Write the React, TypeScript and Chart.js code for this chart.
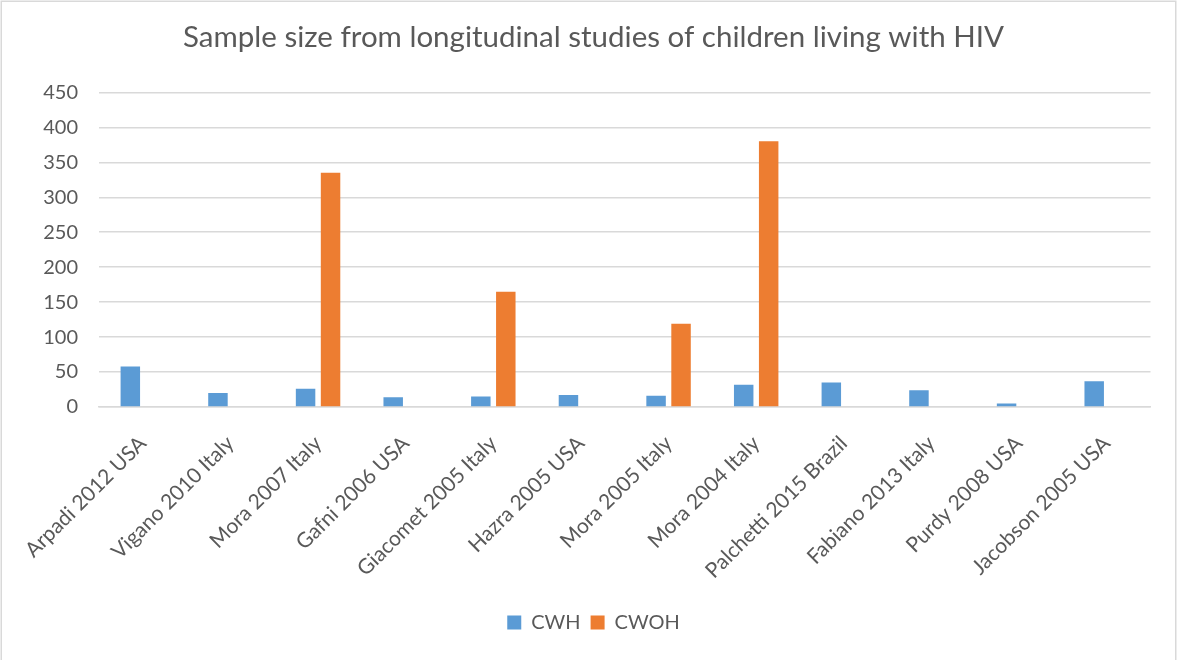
import React, { useEffect, useRef } from "react";
import { Chart, registerables } from "chart.js";

Chart.register(...registerables);

const TITLE = "Sample size from longitudinal studies of children living with HIV";

const studies = [
  "Arpadi 2012 USA",
  "Vigano 2010 Italy",
  "Mora 2007 Italy",
  "Gafni 2006 USA",
  "Giacomet 2005 Italy",
  "Hazra 2005 USA",
  "Mora 2005 Italy",
  "Mora 2004 Italy",
  "Palchetti 2015 Brazil",
  "Fabiano 2013 Italy",
  "Purdy 2008 USA",
  "Jacobson 2005 USA",
];

// children with HIV
const cwh = [58, 20, 26, 14, 15, 17, 16, 32, 35, 24, 5, 37];
// children without HIV (controls), only where a study had them
const cwoh = [null, null, 335, null, 165, null, 119, 380, null, null, null, null];

const yTicks = [0, 50, 100, 150, 200, 250, 300, 350, 400, 450];

const W = 1177;
const H = 660;
const FONT = "Lato, 'Liberation Sans', sans-serif";
const TEXT = "#595959";
const GRID = "#d9d9d9";

// white page plus the thin grey frame around the chart object
const framePlugin = {
  id: "frame",
  beforeDraw(chart: any) {
    const { ctx, width, height } = chart;
    ctx.save();
    ctx.fillStyle = "#ffffff";
    ctx.fillRect(0, 0, width, height);
    ctx.strokeStyle = GRID;
    ctx.lineWidth = 1.5;
    ctx.strokeRect(1.25, 1.25, width - 2.5, height + 10);
    ctx.restore();
  },
};

export default function App() {
  const ref = useRef<HTMLCanvasElement | null>(null);

  useEffect(() => {
    document.body.style.margin = "0";
    const canvas = ref.current;
    if (!canvas) return;
    const chart = new Chart(canvas, {
      type: "bar",
      data: {
        labels: studies,
        datasets: [
          { label: "CWH", data: cwh, backgroundColor: "#5b9bd5" },
          { label: "CWOH", data: cwoh as any, backgroundColor: "#ed7d31" },
        ],
      },
      options: {
        animation: false,
        responsive: false,
        devicePixelRatio: 1,
        datasets: {
          bar: { categoryPercentage: 0.57, barPercentage: 0.78 },
        },
        layout: { padding: { top: 0, left: 10, right: 0, bottom: 17.5 } },
        plugins: {
          title: {
            display: true,
            text: TITLE,
            color: TEXT,
            font: { family: FONT, size: 29.5, weight: "normal" },
            padding: { top: 20, bottom: 37 },
          },
          legend: {
            position: "bottom",
            labels: {
              color: TEXT,
              font: { family: FONT, size: 20 },
              boxWidth: 14,
              boxHeight: 14,
              padding: 10,
            },
          },
          tooltip: { enabled: false },
        },
        scales: {
          x: {
            grid: { display: false, drawTicks: false },
            border: { display: true, color: GRID, width: 1.5 },
            ticks: {
              color: TEXT,
              font: { family: FONT, size: 21 },
              maxRotation: 45,
              minRotation: 45,
              autoSkip: false,
              padding: 24,
            },
            afterFit(scale: any) {
              scale.height = 195.5;
              // rotated labels hang into the y-axis gutter; keep the plot edge fixed
              scale.paddingLeft = 0;
              scale.paddingRight = 0;
            },
          },
          y: {
            min: 0,
            max: 450,
            afterBuildTicks(scale: any) {
              scale.ticks = yTicks.map((v) => ({ value: v }));
            },
            grid: { color: GRID, lineWidth: 1.5, drawTicks: false },
            border: { display: false },
            ticks: {
              color: TEXT,
              font: { family: FONT, size: 20 },
              padding: 21,
            },
            afterFit(scale: any) {
              scale.width = 89;
            },
          },
          // empty right-hand gutter so the plot ends short of the frame
          gutter: {
            type: "linear",
            position: "right",
            display: true,
            grid: { display: false, drawTicks: false },
            border: { display: false },
            ticks: { display: false },
            afterFit(scale: any) {
              scale.width = 26.5;
            },
          },
        },
      },
      plugins: [framePlugin],
    });
    return () => chart.destroy();
  }, []);

  return (
    <div style={{ position: "fixed", left: 0, top: 0, width: W, height: H }}>
      <canvas ref={ref} width={W} height={H} style={{ width: W, height: H }} />
    </div>
  );
}
